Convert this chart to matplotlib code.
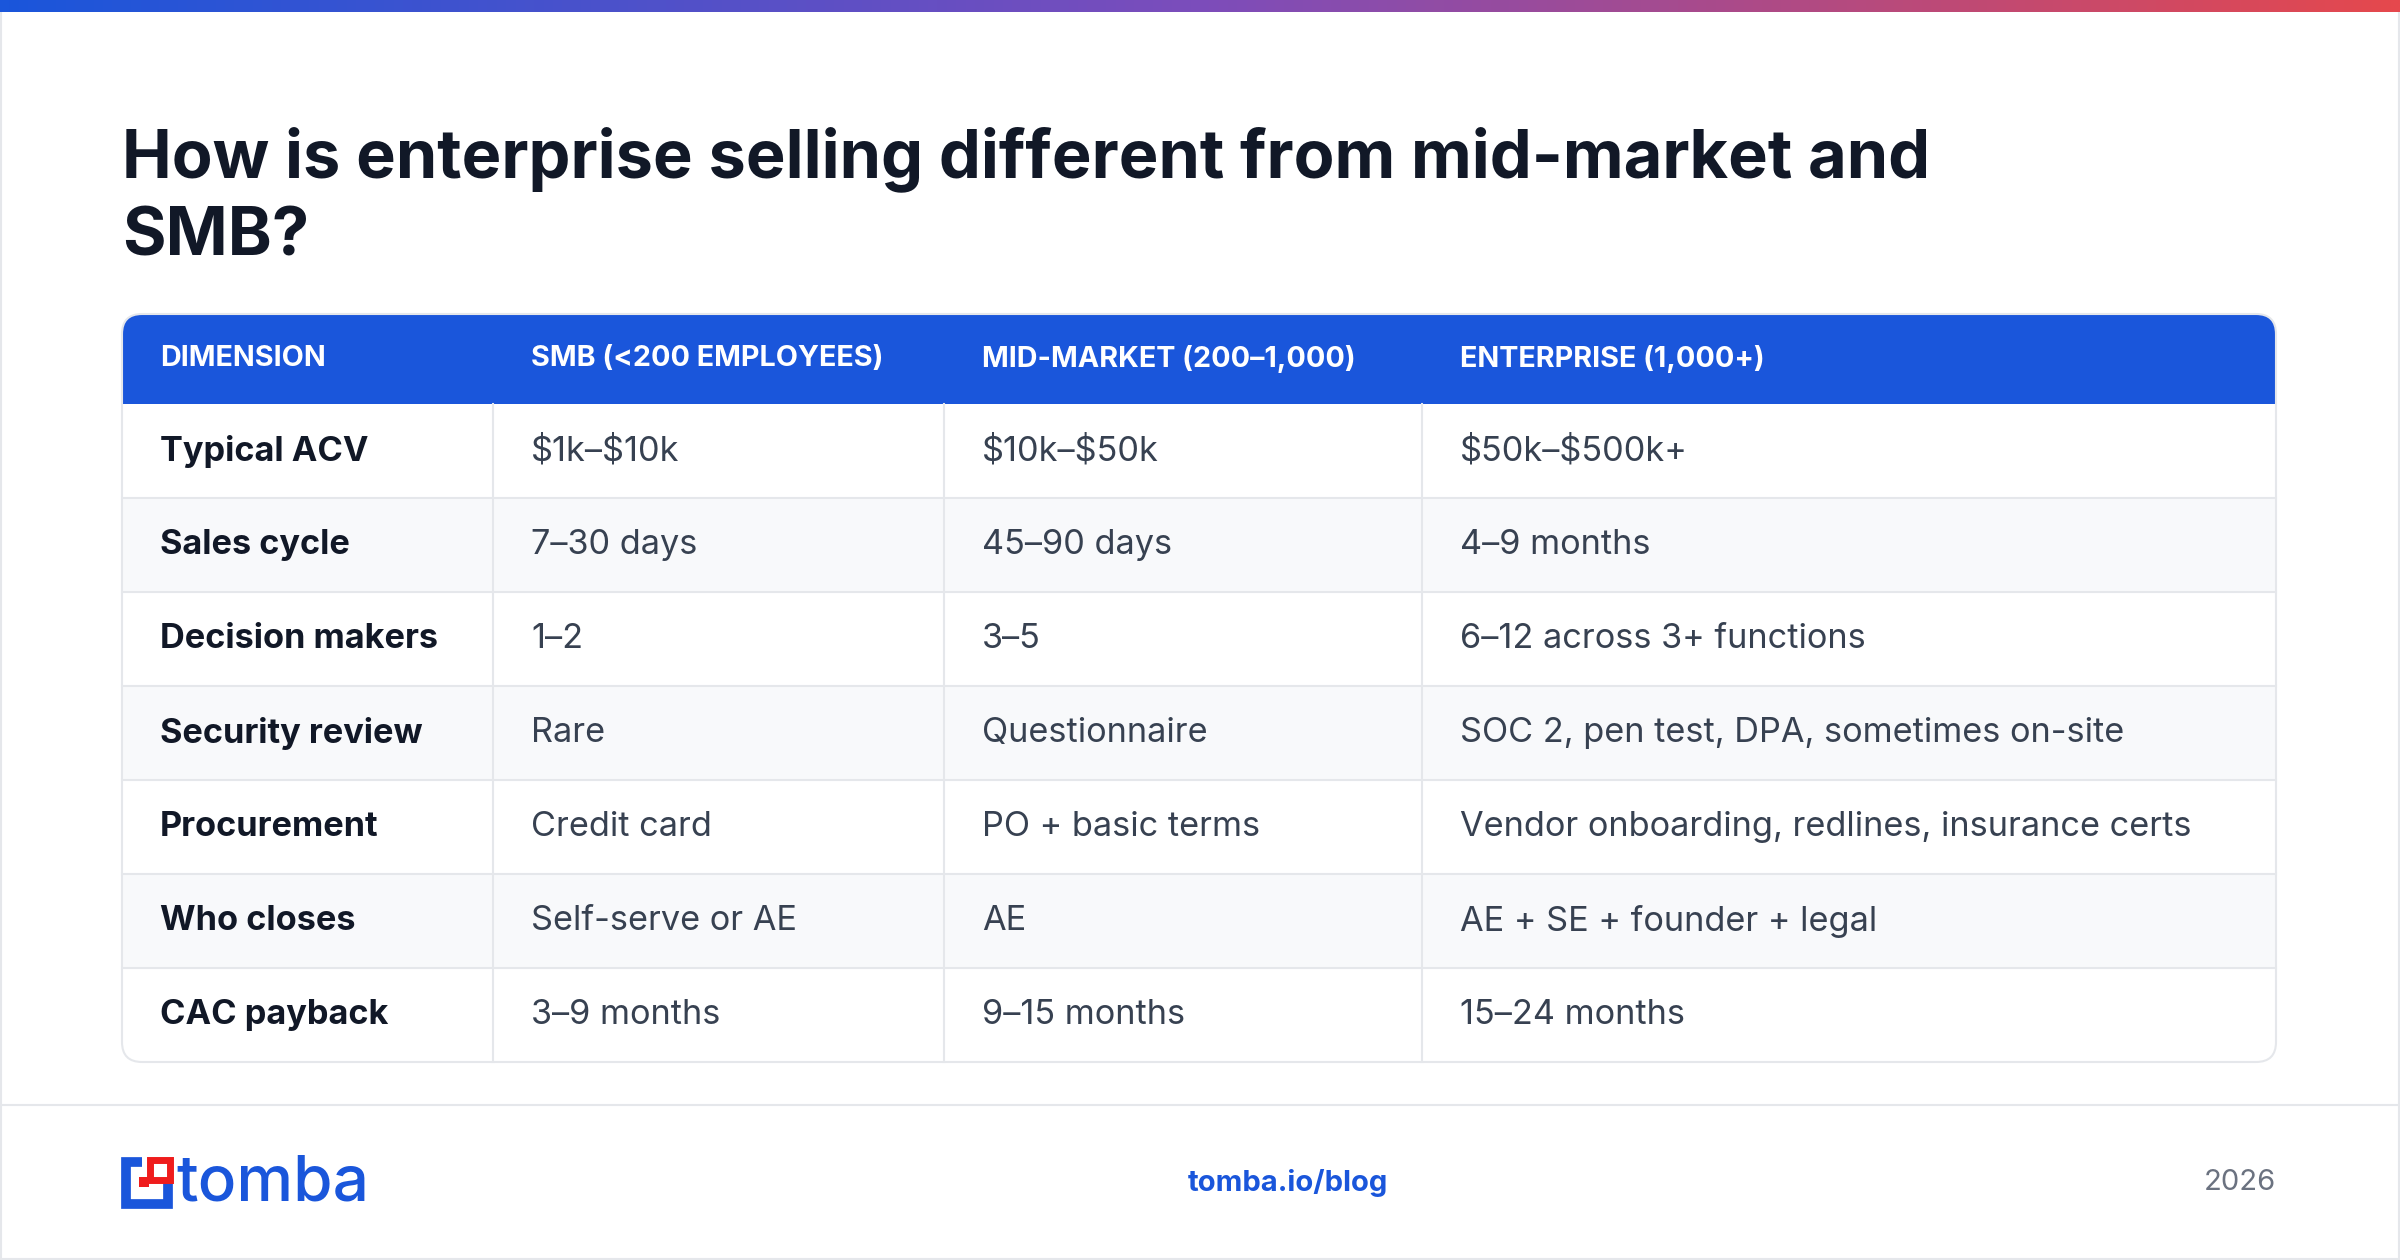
import matplotlib
matplotlib.use("Agg")
import matplotlib.pyplot as plt
from matplotlib.patches import Rectangle, FancyBboxPatch
from matplotlib.colors import LinearSegmentedColormap
import numpy as np

plt.rcParams['font.family'] = ['Inter', 'DejaVu Sans']

title = "How is enterprise selling different from mid-market and\nSMB?"
columns = ["DIMENSION", "SMB (<200 EMPLOYEES)", "MID-MARKET (200–1,000)", "ENTERPRISE (1,000+)"]
dimensions = ["Typical ACV", "Sales cycle", "Decision makers", "Security review",
              "Procurement", "Who closes", "CAC payback"]
smb = [r"\$1k–\$10k", "7–30 days", "1–2", "Rare", "Credit card", "Self-serve or AE", "3–9 months"]
mid = [r"\$10k–\$50k", "45–90 days", "3–5", "Questionnaire", "PO + basic terms", "AE", "9–15 months"]
ent = [r"\$50k–\$500k+", "4–9 months", "6–12 across 3+ functions",
       "SOC 2, pen test, DPA, sometimes on-site",
       "Vendor onboarding, redlines, insurance certs",
       "AE + SE + founder + legal", "15–24 months"]
footer_url = "tomba.io/blog"
footer_year = "2026"

W, H = 2400, 1260
BLUE = "#1a56db"
fig = plt.figure(figsize=(24, 12.6), dpi=100)
ax = fig.add_axes([0, 0, 1, 1])
ax.set_xlim(0, W); ax.set_ylim(H, 0); ax.axis("off")

ax.add_patch(Rectangle((1, 1), W - 2, H - 2, fill=False, ec="#e5e7eb", lw=1.5))
grad = np.linspace(0, 1, 256).reshape(1, -1)
cmap = LinearSegmentedColormap.from_list("g", [BLUE, "#7c4dbb", "#e5484d"])
ax.imshow(grad, extent=(0, W, 12, 0), cmap=cmap, aspect="auto", zorder=5)

ax.text(122, 256, title, fontsize=48, fontweight="bold", color="#111827",
        va="baseline", ha="left", linespacing=1.3)

x0, x1 = 122, 2276
colx = [122, 493, 944, 1422, 2276]
y_head0, y_head1 = 314, 404
rh = 94
y_end = y_head1 + rh * len(dimensions)
clip = FancyBboxPatch((x0, y_head0), x1 - x0, y_end - y_head0,
                      boxstyle="round,pad=0,rounding_size=20", fc="none", ec="none")
ax.add_patch(clip)

p = ax.add_patch(Rectangle((x0, y_head0), x1 - x0, y_head1 - y_head0, fc=BLUE, ec="none"))
p.set_clip_path(clip)
for j, c in enumerate(columns):
    ax.text(colx[j] + 38, (y_head0 + y_head1) / 2, c, fontsize=20.7, fontweight="bold",
            color="white", va="center", ha="left")

for i, dim in enumerate(dimensions):
    ya = y_head1 + i * rh
    fc = "white" if i % 2 == 0 else "#f8f9fb"
    r = ax.add_patch(Rectangle((x0, ya), x1 - x0, rh, fc=fc, ec="none"))
    r.set_clip_path(clip)
    if i > 0:
        ax.plot([x0, x1], [ya, ya], color="#e5e7eb", lw=1.5)
    vals = [dim, smb[i], mid[i], ent[i]]
    for j, v in enumerate(vals):
        ax.text(colx[j] + 38, ya + rh / 2, v, fontsize=24.7,
                fontweight="bold" if j == 0 else "normal",
                color="#111827" if j == 0 else "#374151", va="center", ha="left")
for xc in colx[1:4]:
    ax.plot([xc, xc], [y_head1, y_end], color="#e5e7eb", lw=1.5)
border = FancyBboxPatch((x0, y_head0), x1 - x0, y_end - y_head0,
                        boxstyle="round,pad=0,rounding_size=20", fc="none",
                        ec="#e5e7eb", lw=1.5)
ax.add_patch(border)

# footer
ax.plot([0, W], [1105, 1105], color="#e5e7eb", lw=1.5)
RED = "#ef1c1c"
ax.add_patch(Rectangle((126, 1162), 42, 42, fill=False, ec=BLUE, lw=7))
ax.add_patch(Rectangle((142, 1155), 30, 28, fc="white", ec="none"))
ax.add_patch(Rectangle((150, 1160), 20, 20, fill=False, ec=RED, lw=5, zorder=4))
ax.add_patch(Rectangle((139, 1177), 10, 10, fc=RED, ec="none"))
ax.text(176, 1184, "tomba", fontsize=46, fontweight="medium", color=BLUE,
        va="center", ha="left")
ax.text(1288, 1183, footer_url, fontsize=21, fontweight="bold", color=BLUE,
        va="center", ha="center")
ax.text(2276, 1183, footer_year, fontsize=21, color="#6b7280", va="center", ha="right")

fig.savefig("out.png", dpi=100, facecolor="white")
